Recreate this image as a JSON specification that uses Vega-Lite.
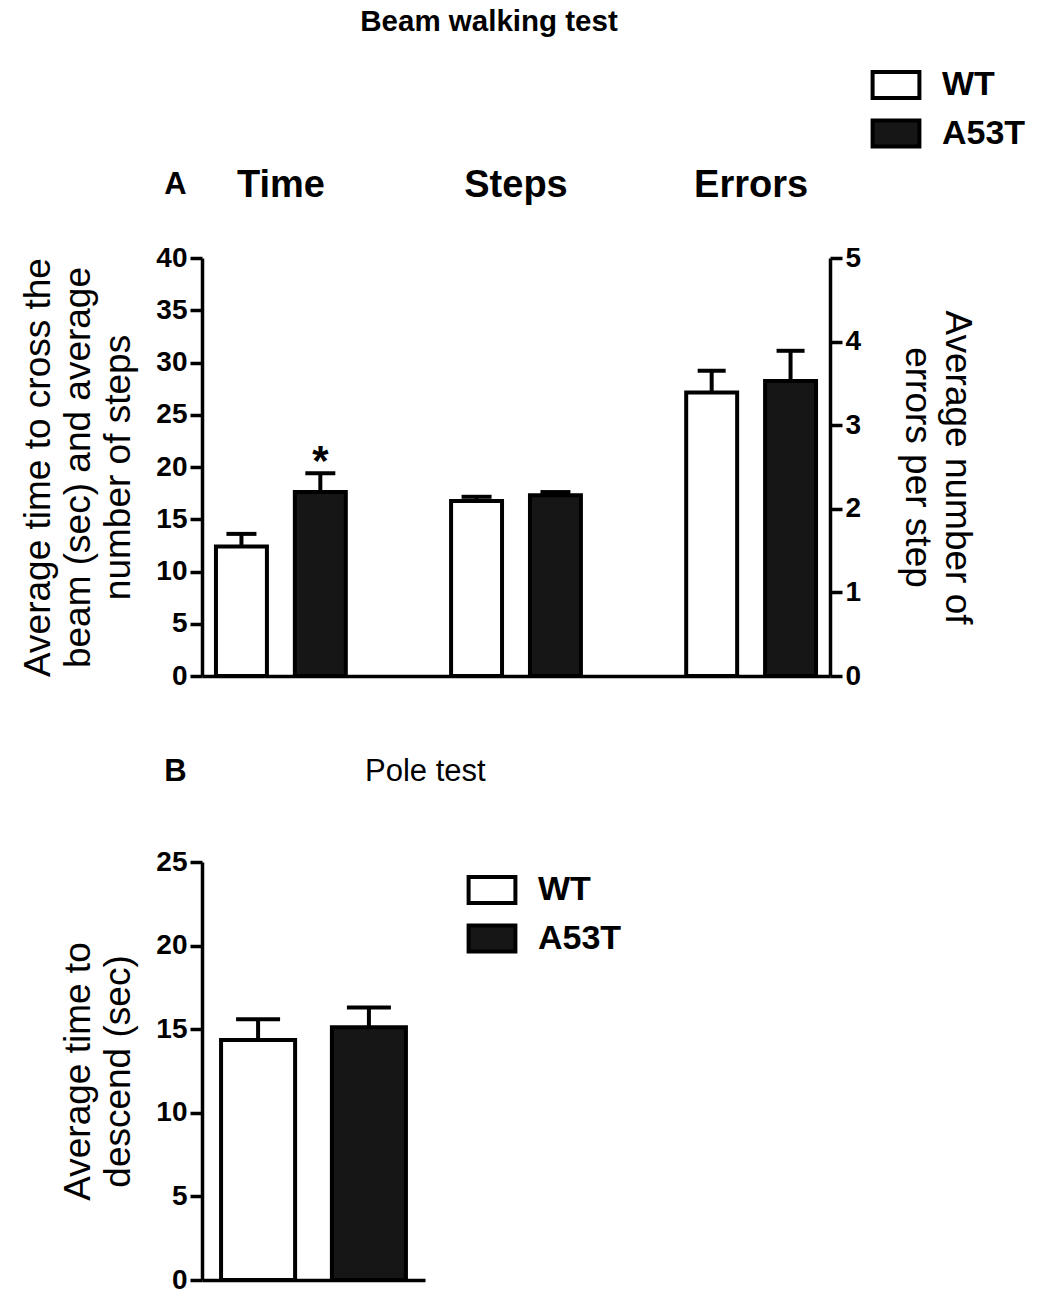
{
  "$schema": "https://vega.github.io/schema/vega-lite/v6.json",
  "background": "white",
  "padding": {"left": 19, "top": 6, "right": 5, "bottom": 5},
  "config": {
    "font": "Liberation Sans",
    "view": {"stroke": null},
    "axis": {"domainColor": "black", "tickColor": "black", "labelColor": "black", "titleColor": "black", "grid": false},
    "legend": {
      "symbolType": "M-1.8,-1H1.8V1H-1.8Z",
      "symbolSize": 676,
      "symbolStrokeColor": "black",
      "symbolStrokeWidth": 4,
      "labelFontSize": 34,
      "labelFontWeight": "bold",
      "labelColor": "black",
      "labelOffset": 29,
      "rowPadding": 6.5,
      "title": null,
      "padding": 0
    }
  },
  "datasets": {
    "bars": [
      {"panel": "A", "measure": "Time", "genotype": "WT", "value": 12.4, "upper": 13.6, "sig": ""},
      {"panel": "A", "measure": "Time", "genotype": "A53T", "value": 17.6, "upper": 19.4, "sig": "*"},
      {"panel": "A", "measure": "Steps", "genotype": "WT", "value": 16.75, "upper": 17.15, "sig": ""},
      {"panel": "A", "measure": "Steps", "genotype": "A53T", "value": 17.3, "upper": 17.6, "sig": ""},
      {"panel": "A", "measure": "Errors", "genotype": "WT", "value": 3.39, "upper": 3.65, "sig": ""},
      {"panel": "A", "measure": "Errors", "genotype": "A53T", "value": 3.53, "upper": 3.89, "sig": ""},
      {"panel": "B", "measure": "Pole", "genotype": "WT", "value": 14.35, "upper": 15.6, "sig": ""},
      {"panel": "B", "measure": "Pole", "genotype": "A53T", "value": 15.12, "upper": 16.3, "sig": ""}
    ]
  },
  "vconcat": [
    {
      "width": 628,
      "height": 418,
      "title": {"text": "Beam walking test", "fontSize": 29.5, "fontWeight": "bold", "color": "black", "dx": -27, "offset": 31},
      "data": {"name": "bars"},
      "transform": [{"filter": "datum.panel == 'A'"}],
      "layer": [
        {
          "transform": [{"filter": "datum.measure != 'Errors'"}],
          "encoding": {
            "x": {"field": "measure", "type": "nominal", "sort": ["Time", "Steps", "Errors"],
              "scale": {"domain": ["Time", "Steps", "Errors"], "paddingInner": 0.329, "paddingOuter": 0},
              "axis": {"orient": "bottom", "labels": false, "ticks": false, "title": null, "domainWidth": 3.5}},
            "xOffset": {"field": "genotype", "type": "nominal", "sort": ["WT", "A53T"],
              "scale": {"domain": ["WT", "A53T"], "paddingInner": 0.354, "paddingOuter": 0.177}},
            "y": {"field": "value", "type": "quantitative",
              "scale": {"domain": [0, 40], "nice": false, "zero": true},
              "axis": {"orient": "left", "values": [0, 5, 10, 15, 20, 25, 30, 35, 40], "tickSize": 12, "tickWidth": 3.5, "domainWidth": 3.5,
                "labelFontSize": 28, "labelFontWeight": "bold", "labelPadding": 3,
                "title": ["Average time to cross the", "beam (sec) and average", "number of steps"],
                "titleFontSize": 37, "titleFontWeight": "normal", "titleLineHeight": 40, "titlePadding": 18}}
          },
          "layer": [
            {"mark": {"type": "rule", "stroke": "black", "strokeWidth": 4}, "encoding": {"y2": {"field": "upper"}}},
            {"mark": {"type": "tick", "color": "black", "thickness": 4, "size": 30, "orient": "horizontal", "opacity": 1}, "encoding": {"y": {"field": "upper", "type": "quantitative"}}},
            {"mark": {"type": "bar", "stroke": "black", "strokeWidth": 4},
              "encoding": {"fill": {"field": "genotype", "type": "nominal", "sort": ["WT", "A53T"],
                "scale": {"domain": ["WT", "A53T"], "range": ["white", "#161616"]},
                "legend": {"orient": "none", "legendX": 677, "legendY": -190}}}},
            {"mark": {"type": "text", "fontSize": 42, "fontWeight": "bold", "baseline": "alphabetic", "dy": 2, "color": "black"},
              "encoding": {"y": {"field": "upper", "type": "quantitative"}, "text": {"field": "sig"}}}
          ]
        },
        {
          "transform": [{"filter": "datum.measure == 'Errors'"}],
          "encoding": {
            "x": {"field": "measure", "type": "nominal", "sort": ["Time", "Steps", "Errors"],
              "scale": {"domain": ["Time", "Steps", "Errors"]},
              "axis": {"orient": "top", "domain": false, "ticks": false, "labelFontSize": 38, "labelFontWeight": "bold", "labelPadding": 54, "labelAngle": 0,
                "title": "A", "titleFontSize": 31, "titleFontWeight": "bold", "titleX": -27, "titleY": -74, "titleBaseline": "middle", "titleAlign": "center", "titleAngle": 0}},
            "xOffset": {"field": "genotype", "type": "nominal", "sort": ["WT", "A53T"]},
            "y": {"field": "value", "type": "quantitative",
              "scale": {"domain": [0, 5], "nice": false, "zero": true},
              "axis": {"orient": "right", "values": [0, 1, 2, 3, 4, 5], "tickSize": 12, "tickWidth": 3.5, "domainWidth": 3.5,
                "labelFontSize": 28, "labelFontWeight": "bold", "labelPadding": 3,
                "title": ["Average number of", "errors per step"], "titleAngle": 90,
                "titleFontSize": 37, "titleFontWeight": "normal", "titleLineHeight": 40, "titlePadding": 37}}
          },
          "layer": [
            {"mark": {"type": "rule", "stroke": "black", "strokeWidth": 4}, "encoding": {"y2": {"field": "upper"}}},
            {"mark": {"type": "tick", "color": "black", "thickness": 4, "size": 28, "orient": "horizontal", "opacity": 1}, "encoding": {"y": {"field": "upper", "type": "quantitative"}}},
            {"mark": {"type": "bar", "stroke": "black", "strokeWidth": 4},
              "encoding": {"fill": {"field": "genotype", "type": "nominal", "sort": ["WT", "A53T"],
                "scale": {"domain": ["WT", "A53T"], "range": ["white", "#161616"]}}}}
          ]
        }
      ],
      "resolve": {"scale": {"y": "independent"}, "axis": {"x": "independent", "y": "independent"}}
    },
    {
      "width": 223,
      "height": 418,
      "title": {"text": "Pole test", "fontSize": 31, "fontWeight": "normal", "color": "black", "anchor": "start", "frame": "group", "dx": 163, "offset": 0, "dy": 33},
      "data": {"name": "bars"},
      "transform": [{"filter": "datum.panel == 'B'"}],
      "encoding": {
        "x": {"field": "genotype", "type": "nominal", "sort": ["WT", "A53T"],
          "scale": {"domain": ["WT", "A53T"], "paddingInner": 0.332, "paddingOuter": 0.172},
          "axis": {"orient": "bottom", "labels": false, "ticks": false, "domainWidth": 3.5,
            "title": "B", "titleFontSize": 31, "titleFontWeight": "bold", "titleX": -27, "titleY": -509, "titleBaseline": "middle", "titleAlign": "center", "titleAngle": 0}},
        "y": {"field": "value", "type": "quantitative",
          "scale": {"domain": [0, 25], "nice": false, "zero": true},
          "axis": {"orient": "left", "values": [0, 5, 10, 15, 20, 25], "tickSize": 12, "tickWidth": 3.5, "domainWidth": 3.5,
            "labelFontSize": 28, "labelFontWeight": "bold", "labelPadding": 3,
            "title": ["Average time to", "descend (sec)"],
            "titleFontSize": 37, "titleFontWeight": "normal", "titleLineHeight": 40, "titlePadding": 18}}
      },
      "layer": [
        {"mark": {"type": "rule", "stroke": "black", "strokeWidth": 4}, "encoding": {"y2": {"field": "upper"}}},
        {"mark": {"type": "tick", "color": "black", "thickness": 4, "size": 44, "orient": "horizontal", "opacity": 1}, "encoding": {"y": {"field": "upper", "type": "quantitative"}}},
        {"mark": {"type": "bar", "stroke": "black", "strokeWidth": 4},
          "encoding": {"fill": {"field": "genotype", "type": "nominal", "sort": ["WT", "A53T"],
            "scale": {"domain": ["WT", "A53T"], "range": ["white", "#161616"]},
            "legend": {"orient": "none", "legendX": 273, "legendY": 11}}}}
      ]
    }
  ],
  "spacing": 65,
  "resolve": {"scale": {"fill": "independent"}, "legend": {"fill": "independent"}}
}
